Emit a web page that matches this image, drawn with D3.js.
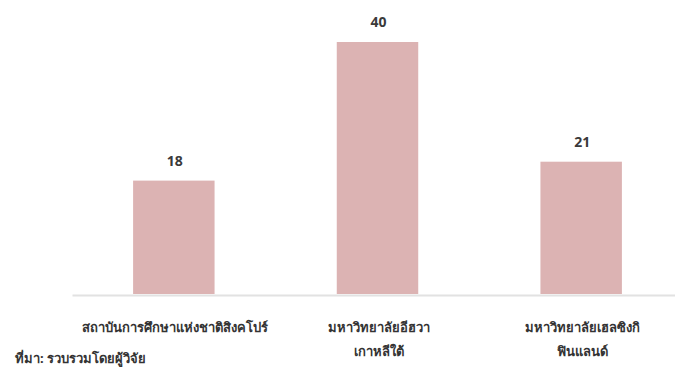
<!DOCTYPE html>
<html><head><meta charset="utf-8">
<script src="https://cdn.jsdelivr.net/npm/d3@7"></script>
<style>
html,body{margin:0;padding:0;background:#fff;}
svg{display:block;}
text{font-family:"Noto Sans","DejaVu Sans",sans-serif;}
</style></head>
<body>
<script>
const categories = [
  ["สถาบันการศึกษาแห่งชาติสิงคโปร์"],
  ["มหาวิทยาลัยอีฮวา", "เกาหลีใต้"],
  ["มหาวิทยาลัยเฮลซิงกิ", "ฟินแลนด์"]
];
const values = [18, 40, 21];
const sourceText = "ที่มา: รวบรวมโดยผู้วิจัย";

const W = 675, H = 369;
const svg = d3.select("body").append("svg").attr("width", W).attr("height", H);

const x = d3.scaleBand().domain(d3.range(values.length)).range([72, 683])
  .paddingInner(0.6).paddingOuter(0.3);
const y = d3.scaleLinear().domain([0, 40]).range([294, 42]);

svg.selectAll("rect.bar").data(values).join("rect")
  .attr("class", "bar")
  .attr("x", (d, i) => x(i))
  .attr("width", x.bandwidth())
  .attr("y", d => y(d))
  .attr("height", d => y(0) - y(d))
  .attr("fill", "#dcb3b3");

// baseline axis
const axis = d3.axisBottom(x).tickSize(0).tickFormat("");
const ag = svg.append("g").attr("transform", `translate(0,${y(0) + 1})`).call(axis);
ag.select(".domain").attr("stroke", "#e2e2e2").attr("stroke-width", 2);

svg.selectAll("text.val").data(values).join("text")
  .attr("class", "val")
  .attr("x", (d, i) => x(i) + x.bandwidth() / 2 + 1)
  .attr("y", d => y(d) - 15)
  .attr("text-anchor", "middle")
  .attr("font-size", 14)
  .attr("font-weight", "bold")
  .attr("fill", "#3a3a3a")
  .text(d => d);

categories.forEach((lines, i) => {
  const cx = x(i) + x.bandwidth() / 2 + 1;
  const t = svg.append("text")
    .attr("x", cx)
    .attr("y", 332)
    .attr("text-anchor", "middle")
    .attr("font-size", 13)
    .attr("font-weight", "bold")
    .attr("fill", "#333");
  lines.forEach((l, j) => {
    t.append("tspan").attr("x", cx).attr("dy", j === 0 ? 0 : 24).text(l);
  });
});

svg.append("text")
  .attr("x", 15).attr("y", 363)
  .attr("font-size", 13)
  .attr("font-weight", "bold")
  .attr("fill", "#333")
  .text(sourceText);
</script>
</body></html>
